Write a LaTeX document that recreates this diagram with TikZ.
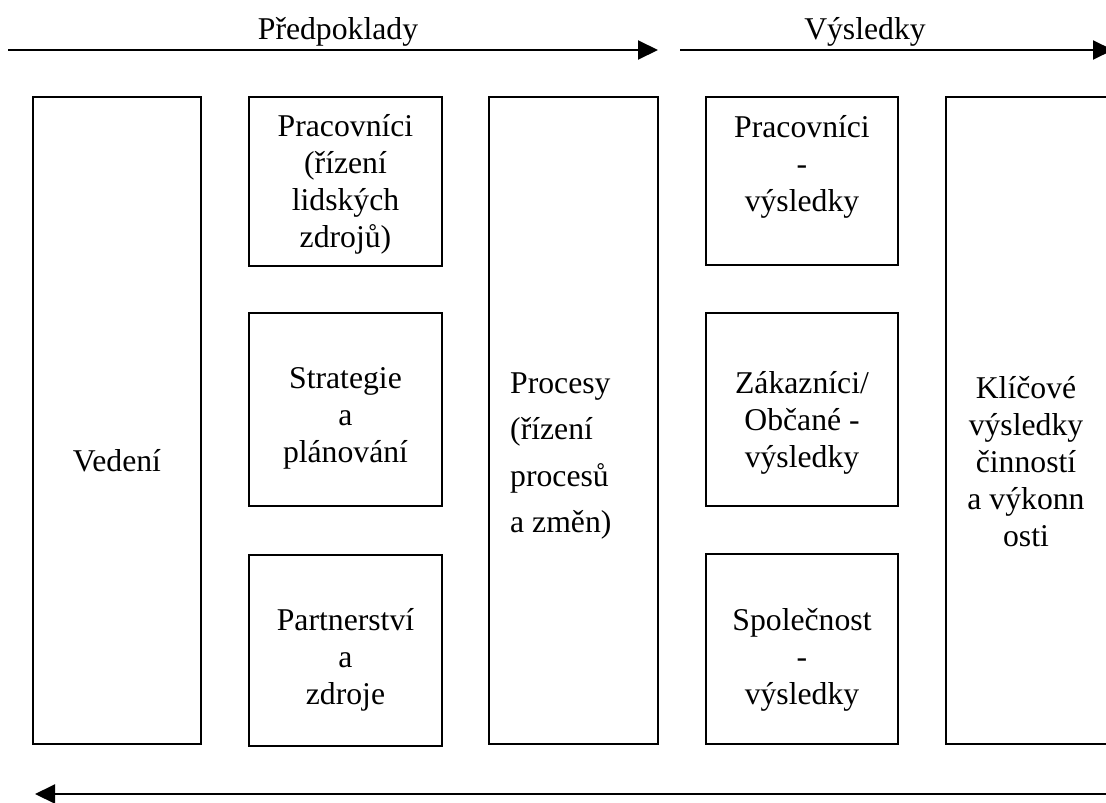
\documentclass[tikz,border=0pt]{standalone}
\usepackage{fontspec}
\setmainfont{Liberation Serif}
\usetikzlibrary{arrows.meta}

\begin{document}
\begin{tikzpicture}[x=1pt, y=-1pt,
    box/.style={draw, line width=1.2pt, inner sep=0pt},
    txt/.style={align=center, font=\fontsize{31.7}{37}\selectfont, inner sep=0pt},
    arrow/.style={-{Triangle[length=20pt, width=19pt]}, line width=2pt}
]
    \useasboundingbox (0,0) rectangle (1106,803);
    \clip (0,0) rectangle (1106,803);

    % Top arrows
    \coordinate (preda) at (8,50);
    \coordinate (predb) at (658,50);
    \coordinate (vysa) at (680,50);
    \coordinate (vysb) at (1113,50);
    \draw[arrow] (preda) -- (predb);
    \draw[arrow] (vysa) -- (vysb);
    \node[txt] (predpoklady) at (338,32) {Předpoklady};
    \node[txt] (vysledky) at (865,32) {Výsledky};

    % Boxes
    \node[box, minimum width=168pt, minimum height=647pt] (vedeni) at (117,420.5) {};
    \node[box, minimum width=193pt, minimum height=169pt] (pracovnici) at (345.5,181.5) {};
    \node[box, minimum width=193pt, minimum height=193pt] (strategie) at (345.5,409.5) {};
    \node[box, minimum width=193pt, minimum height=191pt] (partnerstvi) at (345.5,650.5) {};
    \node[box, minimum width=169pt, minimum height=647pt] (procesy) at (573.5,420.5) {};
    \node[box, minimum width=192pt, minimum height=168pt] (pracvys) at (802,181) {};
    \node[box, minimum width=192pt, minimum height=193pt] (zakaznici) at (802,409.5) {};
    \node[box, minimum width=192pt, minimum height=190pt] (spolecnost) at (802,649) {};
    \node[box, minimum width=164pt, minimum height=647pt] (klicove) at (1028,420.5) {};

    % Texts
    \node[txt] (tvedeni) at (117,461) {Vedení};
    \node[txt] (tpracovnici) at (345.5,184) {Pracovníci\\(řízení\\lidských\\zdrojů)};
    \node[txt] (tstrategie) at (345.5,418) {Strategie\\a\\plánování};
    \node[txt] (tpartnerstvi) at (345.5,660) {Partnerství\\a\\zdroje};
    \node[txt, align=left, anchor=west, font=\fontsize{31.7}{46.5}\selectfont] (tprocesy) at (510,456) {Procesy\\(řízení\\procesů\\a změn)};
    \node[txt] (tpracvys) at (802,167) {Pracovníci\\-\\výsledky};
    \node[txt] (tzakaznici) at (802,423) {Zákazníci/\\Občané -\\výsledky};
    \node[txt] (tspolecnost) at (802,660) {Společnost\\-\\výsledky};
    \node[txt] (tklicove) at (1026,462) {Klíčové\\výsledky\\činností\\a výkonn\\osti};

    % Bottom arrow
    \coordinate (zpeta) at (1110,794);
    \coordinate (zpetb) at (35,794);
    \draw[arrow] (zpeta) -- (zpetb);
\end{tikzpicture}
\end{document}
